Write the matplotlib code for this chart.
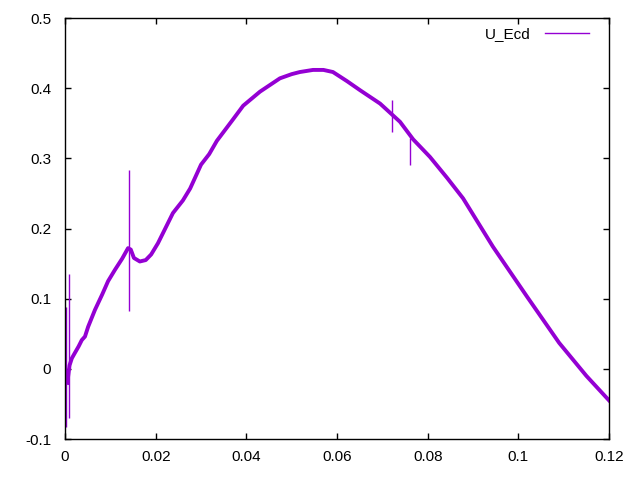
import matplotlib
matplotlib.use("Agg")
import matplotlib.pyplot as plt
from matplotlib.lines import Line2D
from matplotlib.ticker import FuncFormatter

plt.rcParams["font.family"] = ["Liberation Sans", "DejaVu Sans"]
plt.rcParams["axes.unicode_minus"] = False

# centre of the noisy U_Ecd band
t = [0.0005, 0.0010, 0.0015, 0.0022, 0.0030, 0.0037, 0.0044, 0.0051, 0.0066,
     0.0082, 0.0095, 0.0110, 0.0126, 0.0139, 0.0145, 0.0152, 0.0165, 0.0178,
     0.0190, 0.0205, 0.0238, 0.0260, 0.0276, 0.0300, 0.0318, 0.0335, 0.0370,
     0.0393, 0.0430, 0.0474, 0.0500, 0.0518, 0.0547, 0.0570, 0.0591, 0.0622,
     0.0651, 0.0695, 0.0739, 0.0768, 0.0805, 0.0843, 0.0878, 0.0944, 0.1019,
     0.1090, 0.1150, 0.1200]
u_ecd = [-0.020, 0.005, 0.015, 0.023, 0.032, 0.041, 0.046, 0.060, 0.084,
         0.106, 0.125, 0.141, 0.157, 0.172, 0.170, 0.158, 0.153, 0.155,
         0.163, 0.179, 0.222, 0.240, 0.257, 0.291, 0.306, 0.325, 0.355,
         0.375, 0.395, 0.414, 0.420, 0.423, 0.426, 0.426, 0.423, 0.410,
         0.397, 0.378, 0.352, 0.327, 0.302, 0.272, 0.243, 0.174, 0.103,
         0.037, -0.010, -0.045]

# single-sample spikes
spike_t = [0.0002, 0.0008, 0.0141, 0.0721, 0.0762]
spike_top = [0.088, 0.135, 0.283, 0.383, 0.329]
spike_bot = [-0.083, -0.070, 0.082, 0.337, 0.291]

color = "#9400d3"

fig = plt.figure(figsize=(6.4, 4.8), dpi=100)
ax = fig.add_axes([0.1016, 0.0854, 0.85, 0.8771])

ax.plot(t, u_ecd, color=color, lw=2.8)
ax.vlines(spike_t, spike_bot, spike_top, color=color, lw=1)

ax.set_xlim(0, 0.12)
ax.set_ylim(-0.1, 0.5)
ax.set_xticks([0, 0.02, 0.04, 0.06, 0.08, 0.1, 0.12])
ax.set_yticks([-0.1, 0, 0.1, 0.2, 0.3, 0.4, 0.5])
fmt = FuncFormatter(lambda v, p: f"{v:g}" if abs(v) > 1e-12 else "0")
ax.xaxis.set_major_formatter(fmt)
ax.yaxis.set_major_formatter(fmt)
ax.tick_params(direction="in", length=4, width=1, top=True, right=True,
               labelsize=11)
ax.tick_params(axis="x", pad=8)
ax.tick_params(axis="y", pad=10)
for s in ax.spines.values():
    s.set_linewidth(1)

handle = Line2D([], [], color=color, lw=1)
ax.legend([handle], ["U_Ecd"], loc="upper right", frameon=False,
          markerfirst=False, handlelength=2.9, handletextpad=0.9, fontsize=11,
          bbox_to_anchor=(0.98, 1.0), borderaxespad=0.2)

fig.savefig("out.png", dpi=100)
